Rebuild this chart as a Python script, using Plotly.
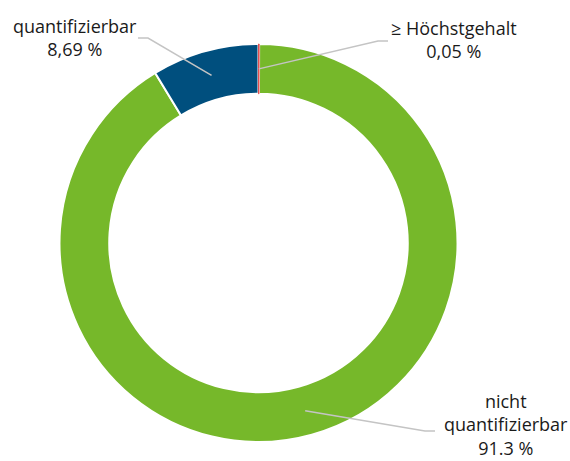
import math
import plotly.graph_objects as go

labels = ["nicht quantifizierbar", "quantifizierbar", "≥ Höchstgehalt"]
values = [91.3, 8.69, 0.05]
label_texts = ["nicht<br>quantifizierbar<br>91.3 %", "quantifizierbar<br>8,69 %", "≥ Höchstgehalt<br>0,05 %"]
colors = ["#76b82a", "#004f7e", "#e05050"]

W, H = 570, 461
cx, cy, R = 258.5, 243.0, 199.0
hole = 0.75

total = sum(values)
rotation = values[2] / total * 360.0

fig = go.Figure(go.Pie(
    labels=labels, values=values, sort=False, direction="clockwise",
    rotation=rotation, hole=hole, textinfo="none", hoverinfo="label+percent",
    marker=dict(colors=colors, line=dict(color=["white", "white", "#e05050"], width=[2, 2, 1])),
    domain=dict(x=[(cx - R) / W, (cx + R) / W], y=[(H - cy - R) / H, (H - cy + R) / H]),
    showlegend=False,
))

# mid angles (clockwise from top) for each slice
start = {}
a = rotation
for i in range(3):
    start[i] = a
    a += values[i] / total * 360.0
mid = [(start[i] + values[i] / total * 180.0) % 360 for i in range(3)]
rmid = R * (1 + hole) / 2

# label text anchor positions (px) and elbow positions
label_pos = [(506, 424), (75, 37), (454, 39)]
elbow = [((435, 431), (425, 431)), ((138, 38), (148, 38)), ((388, 41), (378, 41))]

def px(x, y):
    return x / W, 1 - y / H

shapes = []
for i in range(3):
    ang = math.radians(mid[i])
    ex, ey = cx + rmid * math.sin(ang), cy - rmid * math.cos(ang)
    (x0, y0), (x1, y1) = elbow[i]
    p0, p1, p2 = px(x0, y0), px(x1, y1), px(ex, ey)
    shapes.append(dict(type="path", xref="paper", yref="paper",
                       path=f"M {p0[0]} {p0[1]} L {p1[0]} {p1[1]} L {p2[0]} {p2[1]}",
                       line=dict(color="#c4c4c4", width=1.5)))

annotations = []
for i in range(3):
    x, y = px(*label_pos[i])
    annotations.append(dict(x=x, y=y, xref="paper", yref="paper", text=label_texts[i],
                            showarrow=False, xanchor="center", yanchor="middle", align="center",
                            font=dict(family="Open Sans", size=18, color="#1a1a1a")))

fig.update_layout(width=W, height=H, margin=dict(l=0, r=0, t=0, b=0),
                  paper_bgcolor="white", plot_bgcolor="white",
                  shapes=shapes, annotations=annotations)

fig.write_html("out.html")
